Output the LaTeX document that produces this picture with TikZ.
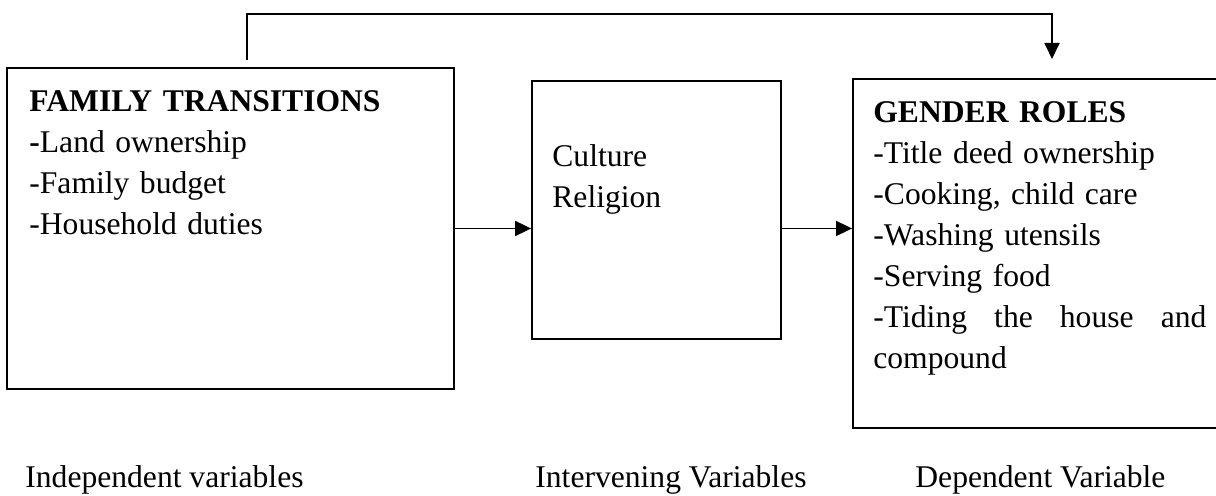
\documentclass[tikz,border=0pt]{standalone}
\usepackage{fontspec}
\setmainfont{Liberation Serif}
\usetikzlibrary{arrows.meta,positioning}

\tikzset{
  varbox/.style={draw, line width=0.9pt, inner sep=0pt},
  boxtext/.style={anchor=base west, inner sep=0pt, align=left, font=\fontsize{15.8}{20.5}\selectfont},
  vartitle/.style={anchor=base west, inner sep=0pt, font=\fontsize{15.8}{20.5}\selectfont},
  flow/.style={line width=0.9pt, -{Triangle[length=8pt,width=7.5pt]}}
}

\begin{document}
\begin{tikzpicture}[x=0.5pt, y=-0.5pt]
    \clip (0,0) rectangle (1216,496);
    % Variable boxes
    \node[varbox, minimum width=223.5pt, minimum height=160.5pt] (family) at (230.5,228.5) {};
    \node[varbox, minimum width=124.5pt, minimum height=129pt] (culture) at (656.5,210) {};
    \node[varbox, minimum width=184.5pt, minimum height=174.5pt] (gender) at (1037.5,253.5) {};

    % Box contents
    \node[boxtext, text width=200pt] (familytext) at (29,112)
        {\textbf{FAMILY TRANSITIONS}\\\textbf{-}Land ownership\\-Family budget\\-Household duties};
    \node[boxtext, text width=100pt] (culturetext) at (552,167) {Culture\\Religion};
    \node[boxtext, text width=166.5pt] (gendertext) at (873,123)
        {\textbf{GENDER ROLES}\\-Title deed ownership\\-Cooking, child care\\-Washing utensils\\-Serving food\\
         -Tiding\hfill the\hfill house\hfill and\\compound};

    % Connectors
    \draw[flow] (family.east) -- (family.east -| culture.west);
    \draw[flow] (culture.east |- family.east) -- (gender.west |- family.east);
    \coordinate (feedstart) at (247,60);
    \coordinate (feedend) at (1052,59);
    \draw[flow] (feedstart) -- ++(0,-46) -| (feedend);

    % Column labels
    \node[vartitle] (indep) at (25,488) {Independent variables};
    \node[vartitle] (interv) at (535,488) {Intervening Variables};
    \node[vartitle] (dep) at (915,488) {Dependent Variable};
\end{tikzpicture}
\end{document}
